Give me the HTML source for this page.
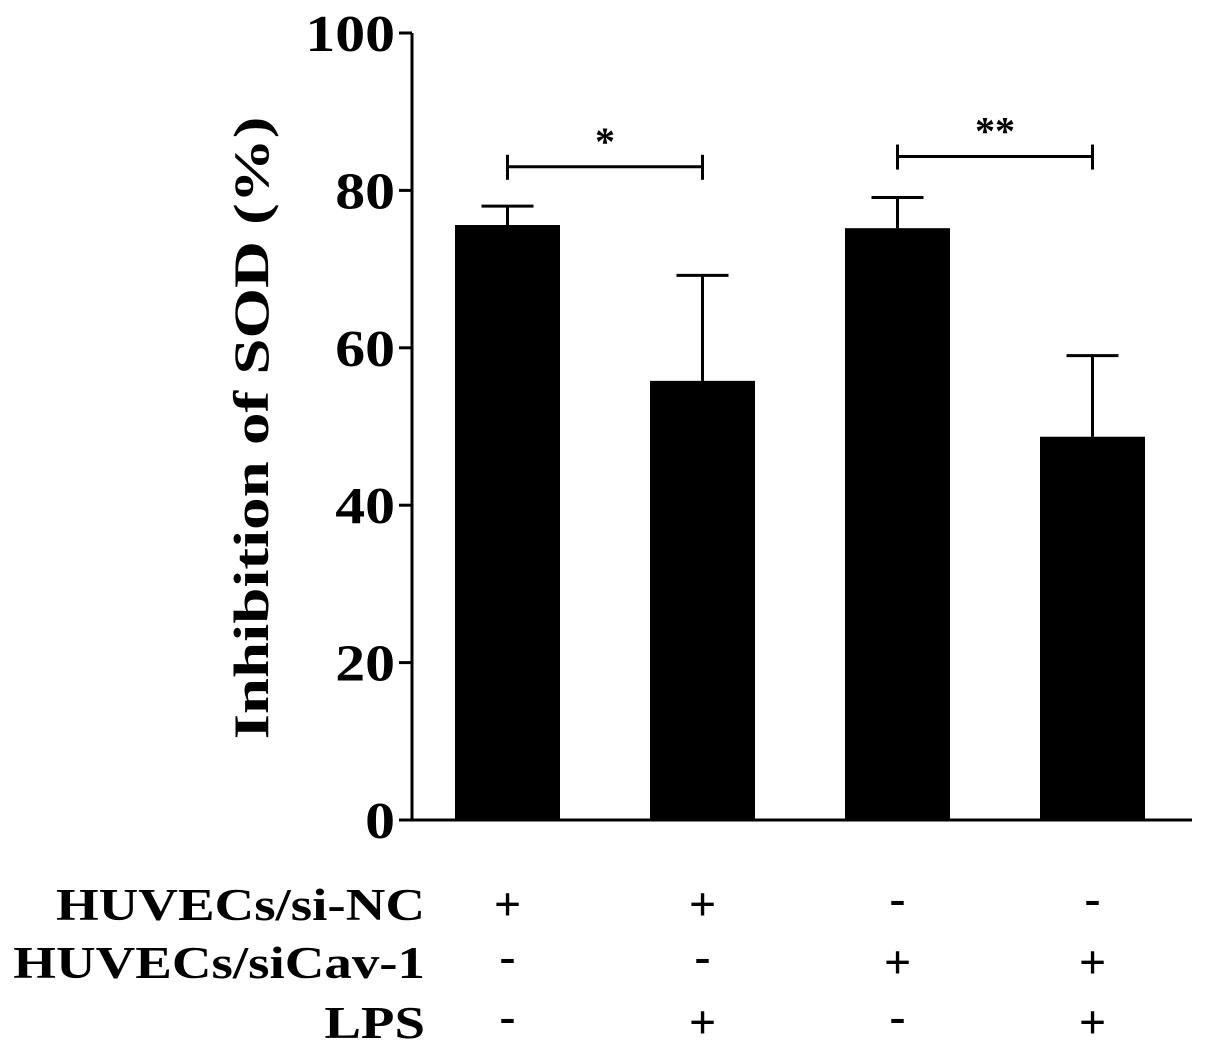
<!DOCTYPE html>
<html><head><meta charset="utf-8"><style>
body{margin:0;background:#fff;}
svg{display:block;}
text{font-family:"Liberation Serif","Times New Roman",serif;font-weight:bold;}
</style></head><body>
<svg id="chart" width="1205" height="1064" viewBox="0 0 1205 1064" xmlns="http://www.w3.org/2000/svg">
<g id="axes"></g><g id="bars"></g><g id="sig"></g><g id="table"></g>
<text font-family="Liberation Serif, serif" transform="translate(268,428) rotate(-90) scale(1.3,1)" text-anchor="middle" font-size="50">Inhibition of SOD (%)</text>
</svg>
<script>
const categories = ["si-NC", "si-NC + LPS", "siCav-1", "siCav-1 + LPS"];
const values = [75.6, 55.8, 75.2, 48.7];
const errors = [2.4, 13.4, 3.9, 10.3];
const yTicks = [0, 20, 40, 60, 80, 100];
const rowLabels = ["HUVECs/si-NC", "HUVECs/siCav-1", "LPS"];
const rowSigns = [["+","+","-","-"],["-","-","+","+"],["-","+","-","+"]];
const sigPairs = [[0,1,"*"],[2,3,"**"]];
const sigLevels = [83, 84.3];

const NS="http://www.w3.org/2000/svg";
const x0=412, x1=1192, yTop=33, yBot=820;
const y = v => yBot - (v/100)*(yBot-yTop);
const bandStart=455, bandStep=195, barW=105;
const xc = i => bandStart + i*bandStep + barW/2;
function mk(tag, attrs, parent, text){const e=document.createElementNS(NS,tag);for(const k in attrs)e.setAttribute(k,attrs[k]);if(text!==undefined)e.textContent=text;parent.appendChild(e);return e;}
const axes=document.getElementById('axes');
let e=mk('line',{x1:x0,y1:yTop,x2:x0,y2:yBot+1,stroke:'#000','stroke-width':3},axes);


e=mk('line',{x1:x0-1,y1:yBot,x2:x1,y2:yBot,stroke:'#000','stroke-width':3},axes);


yTicks.forEach(t=>{
  let l=mk('line',{x1:x0-13,y1:y(t),x2:x0,y2:y(t),stroke:'#000','stroke-width':3},axes);
  
  
  const s=String(t);
  let tx=mk('text',{transform:'translate('+(x0-17)+','+(y(t)+18)+') scale(1.15,1)','text-anchor':'end','font-size':52},axes,s);
  
  
});
const bars=document.getElementById('bars');
values.forEach((v,i)=>{
  const c=xc(i), et=y(v+errors[i]);
  let el=mk('line',{x1:c,y1:y(v),x2:c,y2:et,stroke:'#000','stroke-width':3},bars);
  
  
  el=mk('line',{x1:c-26,y1:et,x2:c+26,y2:et,stroke:'#000','stroke-width':3},bars);
  
  
  let r=mk('rect',{x:c-barW/2,y:y(v),width:barW,height:yBot-y(v),fill:'#000'},bars);
  
  
});
const sig=document.getElementById('sig');
sigPairs.forEach((p,k)=>{
  const a=xc(p[0]), b=xc(p[1]), yy=y(sigLevels[k]);
  let g=mk('g',{},sig);
  
  
  mk('line',{x1:a,y1:yy,x2:b,y2:yy,stroke:'#000','stroke-width':3},g);
  mk('line',{x1:a,y1:yy-12,x2:a,y2:yy+13,stroke:'#000','stroke-width':3},g);
  mk('line',{x1:b,y1:yy-12,x2:b,y2:yy+13,stroke:'#000','stroke-width':3},g);
  mk('text',{x:(a+b)/2,y:yy-12,'text-anchor':'middle','font-size':40},g,p[2]);
});
const table=document.getElementById('table');
const rowY=[920,978,1038];
rowLabels.forEach((lab,r)=>{
  let t=mk('text',{transform:'translate(425,'+rowY[r]+') scale(1.22,1)','text-anchor':'end','font-size':45},table,lab);
  
  
  rowSigns[r].forEach((s,i)=>{
    let st=mk('text',{x:xc(i),y:rowY[r]-(s==='-'?6:0),'text-anchor':'middle','font-size':48,'font-weight':'normal'},table,s);
    
    
  });
});
</script>
</body></html>
